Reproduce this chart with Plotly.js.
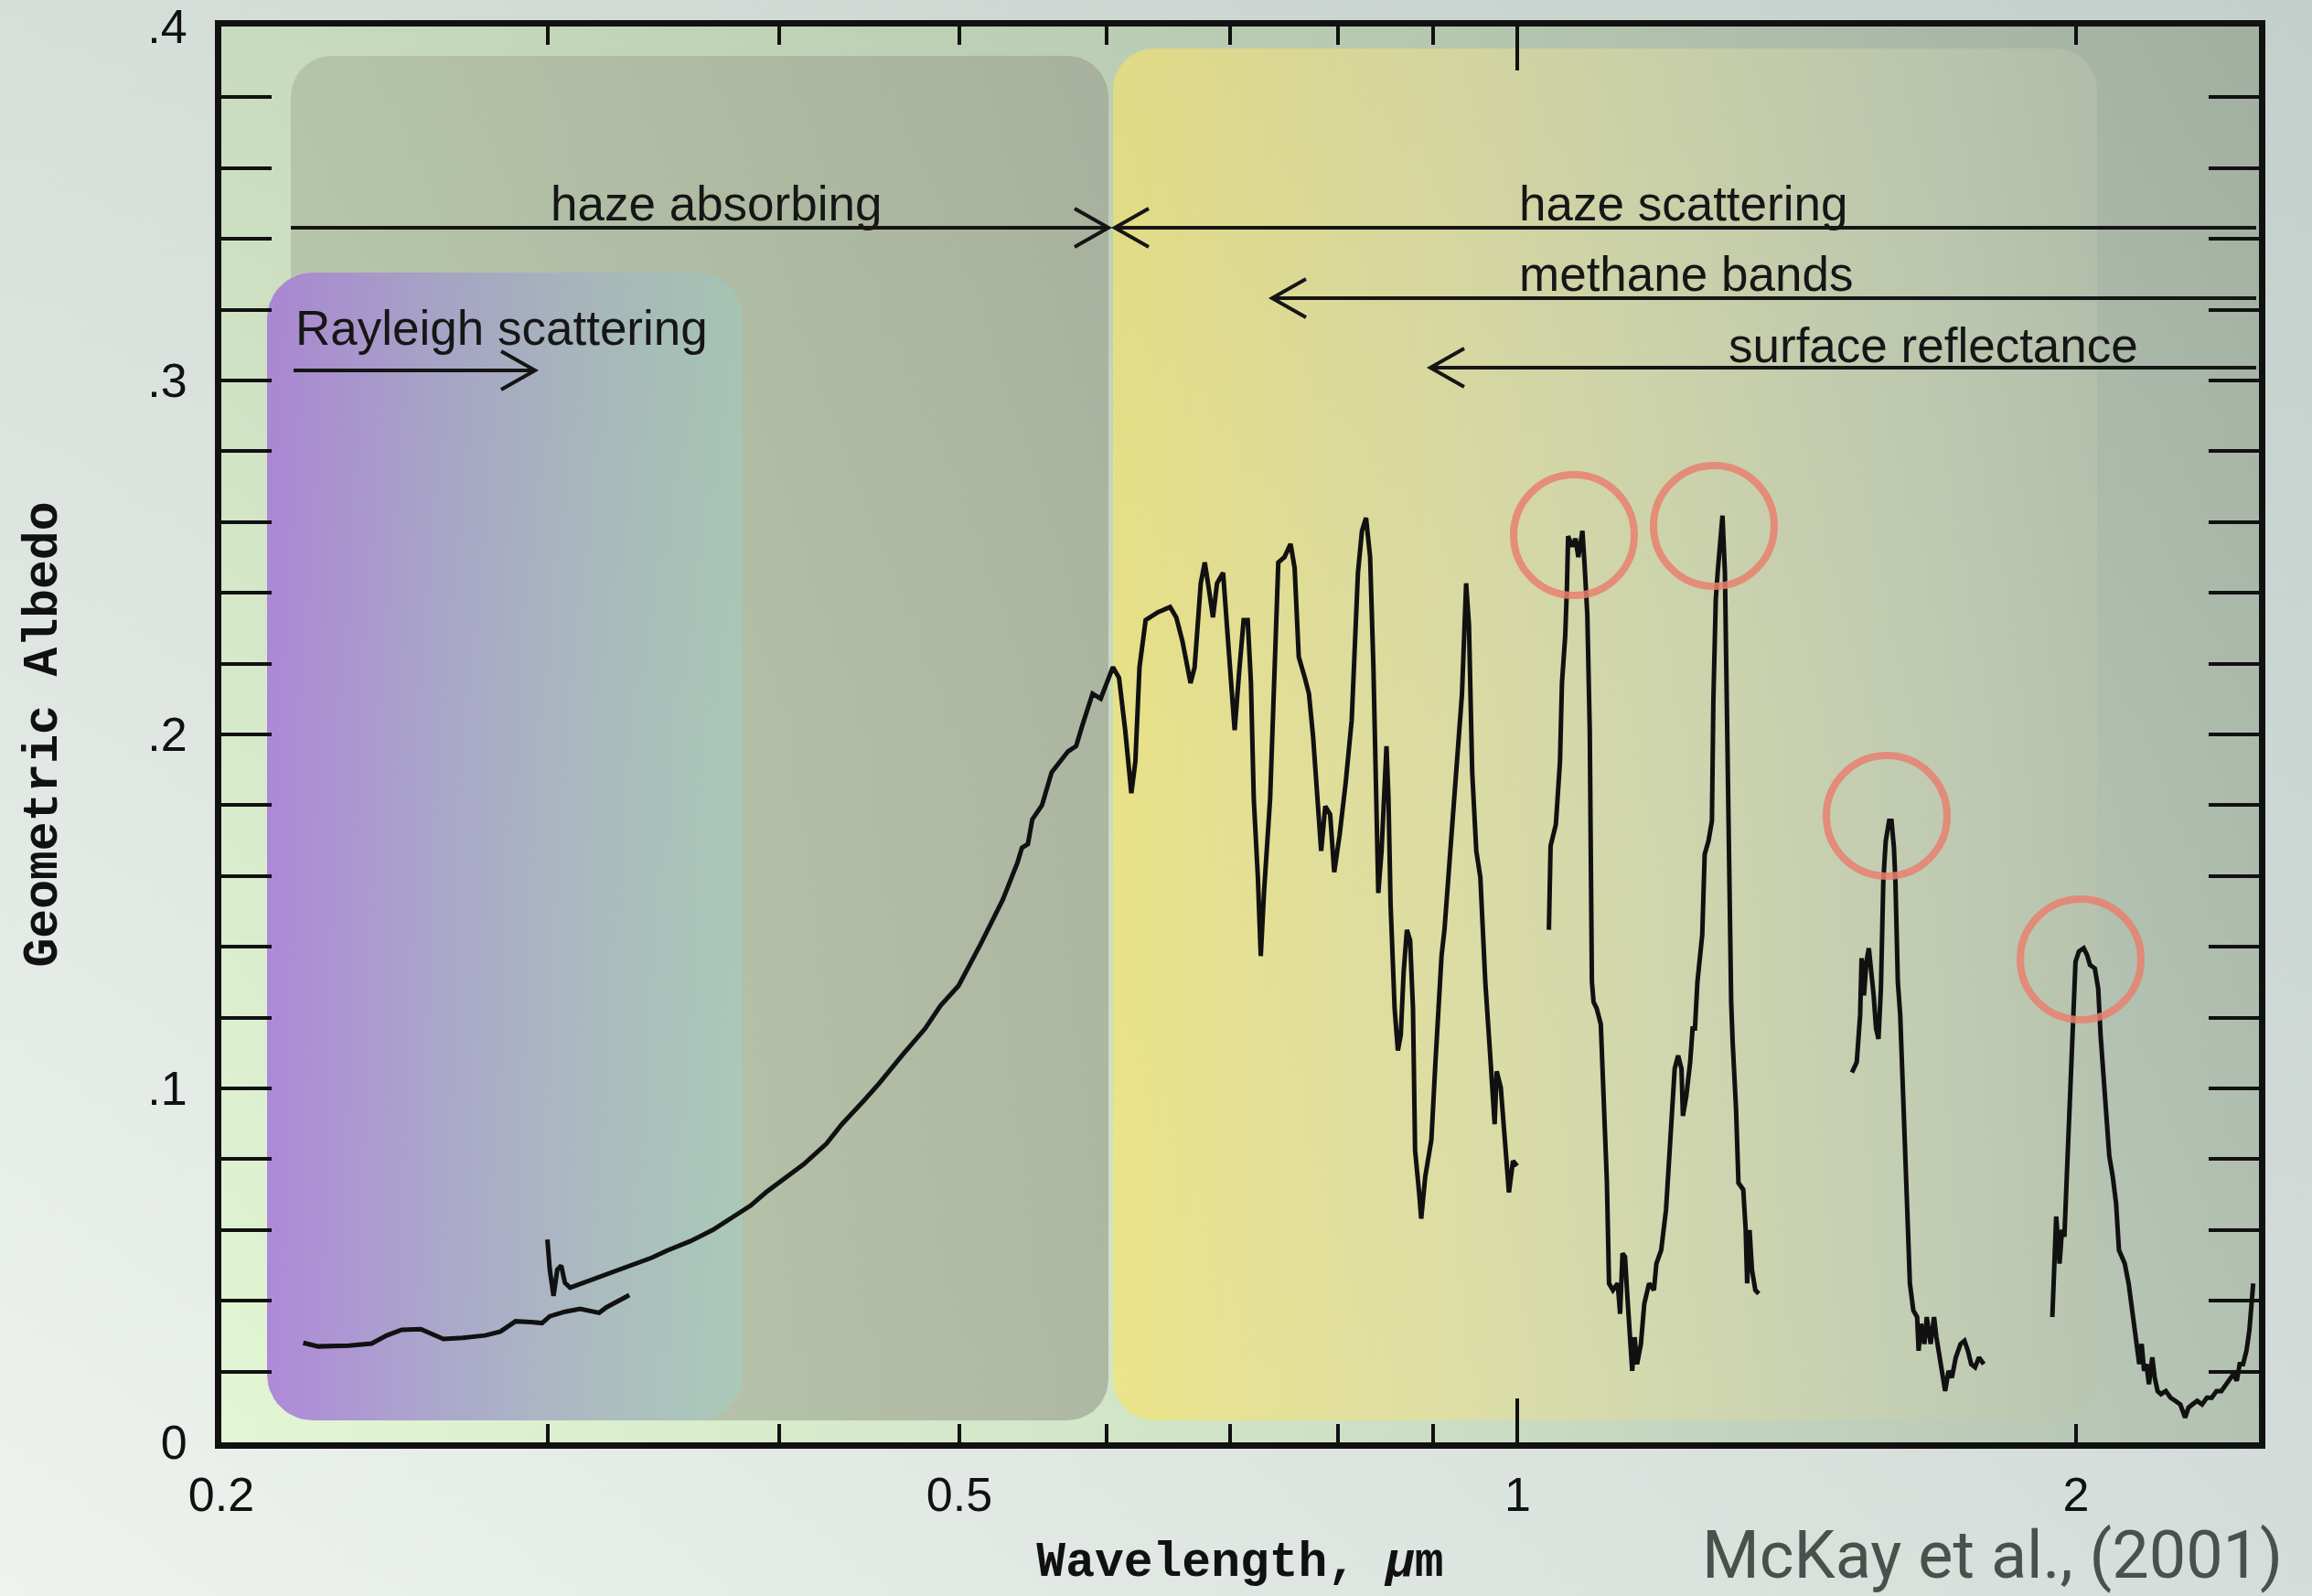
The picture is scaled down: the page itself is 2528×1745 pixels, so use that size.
<!DOCTYPE html>
<html><head><meta charset="utf-8">
<script src="https://cdn.plot.ly/plotly-3.0.1.min.js"></script>
<style>html,body{margin:0;padding:0;background:#e3eae5;}#chart{width:2528px;height:1745px;}</style>
</head><body><div id="chart"></div>
<script>
// ---------------- DATA (wavelength in micron, geometric albedo) ----------------
const lam1 = [0.2214,0.2256,0.2343,0.2410,0.2456,0.2502,0.2562,0.2611,0.2635,0.2698,0.2775,0.2828,0.2882,0.2937,0.2978,0.3007,0.3064,0.3122,0.3167,0.3197,0.3227,0.3273,0.3319];
const alb1 = [0.0281,0.0271,0.0273,0.0279,0.0302,0.0318,0.0320,0.0302,0.0292,0.0295,0.0302,0.0313,0.0342,0.0340,0.0337,0.0356,0.0369,0.0377,0.0369,0.0366,0.0382,0.0398,0.0416];

const lam2 = [0.2998,0.3007,0.3021,0.3035,0.3050,0.3064,0.3084,0.3137,0.3227,0.3319,0.3414,0.3479,0.3579,0.3681,0.3751,0.3859,0.3932,0.4045,0.4122,0.4240,0.4320,0.4444,0.4528,0.4658,0.4792,0.4883,0.4995,0.5134,0.5277,0.5374,0.5404,0.5444,0.5474,0.5540,0.5607,0.5722,0.5780,0.5825,0.5899,0.5959,0.6050,0.6096,0.6143,0.6190,0.6221,0.6253,0.6301,0.6397,0.6495,0.6545,0.6595,0.6662,0.6696,0.6747,0.6781,0.6815,0.6850,0.6885,0.6937,0.6973,0.7008,0.7037,0.7080,0.7116,0.7152,0.7181,0.7206,0.7243,0.7269,0.7298,0.7354,0.7391,0.7429,0.7486,0.7543,0.7581,0.7620,0.7678,0.7717,0.7756,0.7795,0.7835,0.7875,0.7923,0.7963,0.8016,0.8077,0.8138,0.8201,0.8242,0.8284,0.8326,0.8360,0.8390,0.8411,0.8445,0.8475,0.8497,0.8518,0.8540,0.8583,0.8618,0.8649,0.8680,0.8715,0.8750,0.8781,0.8804,0.8848,0.8871,0.8916,0.8984,0.9030,0.9098,0.9131,0.9191,0.9261,0.9332,0.9380,0.9413,0.9451,0.9499,0.9547,0.9606,0.9669,0.9718,0.9743,0.9792,0.9842,0.9892,0.9942,0.9993];
const alb2 = [0.0573,0.0488,0.0414,0.0488,0.0499,0.0451,0.0437,0.0451,0.0476,0.0499,0.0522,0.0542,0.0568,0.0600,0.0627,0.0669,0.0706,0.0754,0.0786,0.0844,0.0898,0.0967,0.1015,0.1094,0.1169,0.1233,0.1290,0.1408,0.1533,0.1638,0.1680,0.1690,0.1760,0.1800,0.1893,0.1952,0.1967,0.2026,0.2115,0.2101,0.2190,0.2160,0.2012,0.1834,0.1923,0.2190,0.2323,0.2345,0.2360,0.2331,0.2264,0.2145,0.2190,0.2427,0.2486,0.2412,0.2331,0.2427,0.2457,0.2294,0.2115,0.2012,0.2190,0.2323,0.2323,0.2145,0.1819,0.1596,0.1374,0.1552,0.1819,0.2115,0.2486,0.2501,0.2538,0.2471,0.2219,0.2160,0.2115,0.1997,0.1819,0.1671,0.1797,0.1774,0.1611,0.1715,0.1863,0.2041,0.2457,0.2575,0.2612,0.2501,0.2190,0.1819,0.1552,0.1671,0.1893,0.1967,0.1819,0.1522,0.1226,0.1107,0.1151,0.1329,0.1448,0.1418,0.1226,0.0825,0.0706,0.0632,0.0751,0.0855,0.1077,0.1374,0.1448,0.1641,0.1893,0.2115,0.2427,0.2309,0.1893,0.1671,0.1596,0.1300,0.1077,0.0899,0.1048,0.1003,0.0855,0.0706,0.0795,0.0781];

const lam3 = [1.0395,1.0406,1.0417,1.0485,1.0512,1.0539,1.0565,1.0608,1.0630,1.0646,1.0700,1.0744,1.0782,1.0837,1.0864,1.0903,1.0936,1.0947,1.0965,1.0988,1.1031,1.1087,1.1126,1.1171,1.1201,1.1255,1.1322,1.1356,1.1390,1.1425,1.1459,1.1493,1.1528,1.1563,1.1597,1.1653,1.1702,1.1772,1.1843,1.1879,1.1950,1.2022,1.2094,1.2152,1.2204,1.2255,1.2277,1.2329,1.2388,1.2425,1.2462,1.2500,1.2575,1.2613,1.2673,1.2727,1.2750,1.2788,1.2818,1.2857,1.2895,1.2934,1.2957,1.2996,1.3035,1.3059,1.3114,1.3153,1.3232,1.3272,1.3296,1.3336,1.3376,1.3432,1.3489];
const alb3 = [0.1448,0.1596,0.1685,0.1745,0.1834,0.1923,0.2145,0.2279,0.2412,0.2560,0.2531,0.2553,0.2501,0.2575,0.2486,0.2338,0.2012,0.1819,0.1301,0.1244,0.1226,0.1181,0.1003,0.0736,0.0449,0.0430,0.0449,0.0363,0.0534,0.0524,0.0411,0.0316,0.0202,0.0297,0.0221,0.0278,0.0392,0.0449,0.0430,0.0505,0.0543,0.0657,0.0903,0.1055,0.1093,0.1055,0.0922,0.0979,0.1074,0.1169,0.1169,0.1301,0.1434,0.1661,0.1699,0.1756,0.2097,0.2381,0.2457,0.2533,0.2618,0.2457,0.2135,0.1775,0.1244,0.1131,0.0941,0.0733,0.0714,0.0600,0.0449,0.0600,0.0487,0.0430,0.0420];

const lam4 = [1.5143,1.5234,1.5298,1.5326,1.5372,1.5418,1.5464,1.5511,1.5557,1.5604,1.5651,1.5698,1.5745,1.5792,1.5859,1.5906,1.5954,1.5983,1.6031,1.6079,1.6127,1.6195,1.6273,1.6342,1.6420,1.6450,1.6499,1.6568,1.6618,1.6698,1.6768,1.6818,1.6920,1.7001,1.7073,1.7144,1.7227,1.7330,1.7414,1.7487,1.7560,1.7645,1.7730,1.7836];
const alb4 = [0.1045,0.1074,0.1207,0.1368,0.1263,0.1358,0.1396,0.1339,0.1263,0.1169,0.1140,0.1282,0.1586,0.1699,0.1756,0.1756,0.1680,0.1586,0.1301,0.1207,0.1017,0.0733,0.0449,0.0373,0.0354,0.0259,0.0335,0.0278,0.0354,0.0278,0.0354,0.0297,0.0202,0.0145,0.0202,0.0183,0.0240,0.0278,0.0287,0.0259,0.0221,0.0212,0.0240,0.0221];

const lam5 = [1.9421,1.9444,1.9514,1.9561,1.9596,1.9655,1.9714,1.9773,1.9832,1.9892,1.9952,1.9988,2.0072,2.0192,2.0277,2.0350,2.0473,2.0559,2.0620,2.0682,2.0769,2.0844,2.0932,2.1020,2.1096,2.1248,2.1350,2.1440,2.1569,2.1634,2.1699,2.1764,2.1829,2.1895,2.1987,2.2053,2.2132,2.2225,2.2359,2.2493,2.2628,2.2765,2.2902,2.2998,2.3109,2.3248,2.3387,2.3528,2.3670,2.3812,2.3955,2.4099,2.4215,2.4317,2.4419,2.4507,2.4610,2.4714,2.4803,2.4862,2.4922];
const alb5 = [0.0354,0.0449,0.0638,0.0562,0.0505,0.0600,0.0581,0.0752,0.0903,0.1112,0.1244,0.1358,0.1387,0.1396,0.1377,0.1349,0.1339,0.1282,0.1150,0.1055,0.0903,0.0809,0.0752,0.0676,0.0543,0.0505,0.0449,0.0373,0.0259,0.0221,0.0278,0.0202,0.0221,0.0164,0.0240,0.0183,0.0145,0.0136,0.0145,0.0126,0.0117,0.0107,0.0070,0.0098,0.0107,0.0117,0.0107,0.0126,0.0126,0.0145,0.0145,0.0164,0.0183,0.0193,0.0174,0.0221,0.0221,0.0259,0.0316,0.0373,0.0449];

const xTickVals = [0.2,0.3,0.4,0.5,0.6,0.7,0.8,0.9,1,2];
const xTickText = ['0.2','','','0.5','','','','','1','2'];
const yTickVals = [0,0.1,0.2,0.3,0.4];
const yTickText = ['0','.1','.2','.3','.4'];
const bandLabels = ['haze absorbing','haze scattering','methane bands','surface reflectance','Rayleigh scattering'];
const sourceText = 'McKay et al., (2001)';

// ---------------- LAYOUT GEOMETRY (page pixels) ----------------
const W = 2528, H = 1745;
const L = 242, R = 2470, T = 29, B = 1577;

function rrect(x0, y0, x1, y1, r) {
  const xs = [], ys = [], n = 14;
  const corners = [[x1 - r, y0 + r, -90], [x1 - r, y1 - r, 0], [x0 + r, y1 - r, 90], [x0 + r, y0 + r, 180]];
  corners.forEach(([cx, cy, a0]) => {
    for (let i = 0; i <= n; i++) {
      const a = (a0 + 90 * i / n) * Math.PI / 180;
      xs.push(cx + r * Math.cos(a)); ys.push(cy + r * Math.sin(a));
    }
  });
  xs.push(xs[0]); ys.push(ys[0]);
  return {xs, ys};
}
function deco(box, type, scale, r) {
  const p = rrect(box[0], box[1], box[2], box[3], r || 0.0001);
  return {x: p.xs, y: p.ys, xaxis: 'x', yaxis: 'y', mode: 'lines', line: {width: 0},
    fill: 'toself', fillgradient: {type: type, colorscale: scale}, hoverinfo: 'skip', showlegend: false};
}

const traces = [
  deco([0, 0, W, H], 'horizontal', [[0, '#eef3ee'], [1, '#d4ddd9']]),
  deco([0, 0, W, H], 'vertical', [[0, 'rgba(160,175,170,0)'], [1, 'rgba(160,175,170,0.30)']]),
  deco([L, T, R, B], 'horizontal', [[0, '#e2f6d4'], [0.45, '#d2e6c8'], [1, '#bfcebe']]),
  deco([L, T, R, B], 'vertical', [[0, 'rgba(70,80,70,0)'], [1, 'rgba(70,80,70,0.10)']]),
  deco([318, 61, 1212, 1553], 'horizontal', [[0, '#bdccaf'], [1, '#afb8a3']], 45),
  deco([292, 298, 812, 1553], 'horizontal', [[0, '#af89d9'], [0.35, '#aba7cc'], [0.7, '#acbdc0'], [1, '#abcab9']], 50),
  deco([1217, 53, 2293, 1553], 'horizontal', [[0, '#ede58a'], [0.25, '#e3e1a0'], [0.55, '#d7ddb2'], [0.85, '#cad5bb'], [1, '#c3cfb8']], 45),
  deco([L, T, R, B], 'vertical', [[0, 'rgba(70,80,70,0)'], [0.5, 'rgba(70,80,70,0.02)'], [1, 'rgba(70,80,70,0.07)']]),
  deco([L, T, R, B], 'horizontal', [[0, 'rgba(70,80,75,0)'], [0.6, 'rgba(70,80,75,0.01)'], [1, 'rgba(70,80,75,0.10)']])
];

const segs = [[lam1, alb1], [lam2, alb2], [lam3, alb3], [lam4, alb4], [lam5, alb5]];
segs.forEach((s, i) => traces.push({
  x: s[0], y: s[1], xaxis: 'x2', yaxis: 'y2', mode: 'lines', name: 'Titan albedo ' + (i + 1),
  line: {color: '#111111', width: 5}, hoverinfo: 'x+y', showlegend: false
}));
traces.push({x: [1], y: [null], xaxis: 'x3', yaxis: 'y2', mode: 'markers', marker: {opacity: 0}, hoverinfo: 'skip', showlegend: false});

// arrows
const ink = '#151515';
function hline(x0, x1, y) { return {type: 'line', xref: 'x', yref: 'y', x0: x0, x1: x1, y0: y, y1: y, line: {color: ink, width: 4}, layer: 'above'}; }
function head(tx, y, dir) {
  const bx = tx - dir * 37;
  return {type: 'path', xref: 'x', yref: 'y', path: `M${bx},${y - 21} L${tx},${y} L${bx},${y + 21}`, line: {color: ink, width: 4}, layer: 'above'};
}
function ring(cx, cy, r) {
  return {type: 'circle', xref: 'x', yref: 'y', x0: cx - r, x1: cx + r, y0: cy - r, y1: cy + r,
    line: {color: 'rgba(232,128,112,0.85)', width: 8}, fillcolor: 'rgba(0,0,0,0)', layer: 'above'};
}
const shapes = [
  hline(318, 1212, 249), head(1212, 249, 1),
  hline(1219, 2467, 249), head(1219, 249, -1),
  hline(1391, 2467, 326), head(1391, 326, -1),
  hline(1564, 2467, 402), head(1564, 402, -1),
  hline(321, 585, 405), head(585, 405, 1),
  ring(1721, 585, 66), ring(1874, 575, 66), ring(2063, 892, 66), ring(2275, 1049, 66)
];

const lblFont = {family: 'Liberation Sans, Arial, sans-serif', size: 53, color: '#161616'};
function lbl(text, x, y) { return {text: text, x: x, y: y, xref: 'x', yref: 'y', xanchor: 'left', yanchor: 'middle', showarrow: false, font: lblFont}; }
const annotations = [
  lbl(bandLabels[0], 600, 222),
  lbl(bandLabels[1], 1659, 222),
  lbl(bandLabels[2], 1659, 299),
  lbl(bandLabels[3], 1888, 377),
  lbl(bandLabels[4], 321, 358),
  {text: sourceText, x: 2498, y: 1700, xref: 'x', yref: 'y', xanchor: 'right', yanchor: 'middle', showarrow: false,
   font: {family: 'Roboto, sans-serif', size: 72, color: '#4b504d'}}
];

const tickFont = {family: 'Liberation Sans, Arial, sans-serif', size: 52, color: '#111'};
const titleFont = {family: 'Liberation Mono, DejaVu Sans Mono, monospace', size: 53, color: '#111', weight: 'bold'};
const xr = [Math.log10(0.2), Math.log10(2.51)];

const layout = {
  width: W, height: H, margin: {l: 0, r: 0, t: 0, b: 0},
  paper_bgcolor: '#e3eae5', plot_bgcolor: 'rgba(0,0,0,0)', showlegend: false, hovermode: false,
  xaxis: {domain: [0, 1], range: [0, W], visible: false, fixedrange: true, anchor: 'y'},
  yaxis: {domain: [0, 1], range: [H, 0], visible: false, fixedrange: true, anchor: 'x'},
  xaxis2: {domain: [L / W, R / W], anchor: 'y2', type: 'log', range: xr, tickvals: xTickVals, ticktext: xTickText,
    ticks: 'inside', ticklen: 20, tickwidth: 4, tickcolor: '#111', showline: true, linewidth: 7, linecolor: '#111',
    mirror: 'allticks', showgrid: false, zeroline: false, tickfont: tickFont, ticklabelstandoff: 6,
    title: {text: 'Wavelength, <i>μ</i>m', font: titleFont, standoff: 26}},
  xaxis3: {overlaying: 'x2', anchor: 'y2', type: 'log', range: xr, tickvals: [1], ticks: 'inside', ticklen: 48,
    tickwidth: 4, tickcolor: '#111', showticklabels: false, mirror: 'ticks', showline: false, showgrid: false, zeroline: false},
  yaxis2: {domain: [1 - B / H, 1 - T / H], anchor: 'x2', range: [0, 0.4], tickvals: yTickVals, ticktext: yTickText,
    ticks: 'inside', ticklen: 55, tickwidth: 4, tickcolor: '#111',
    minor: {dtick: 0.02, ticks: 'inside', ticklen: 27, tickwidth: 4, tickcolor: '#111', showgrid: false},
    showline: true, linewidth: 7, linecolor: '#111', mirror: 'allticks', showgrid: false, zeroline: false,
    tickfont: tickFont, ticklabelstandoff: 20,
    title: {text: 'Geometric Albedo', font: titleFont, standoff: 84}},
  shapes: shapes, annotations: annotations
};

Plotly.newPlot('chart', traces, layout, {staticPlot: true, displayModeBar: false});
</script></body></html>
